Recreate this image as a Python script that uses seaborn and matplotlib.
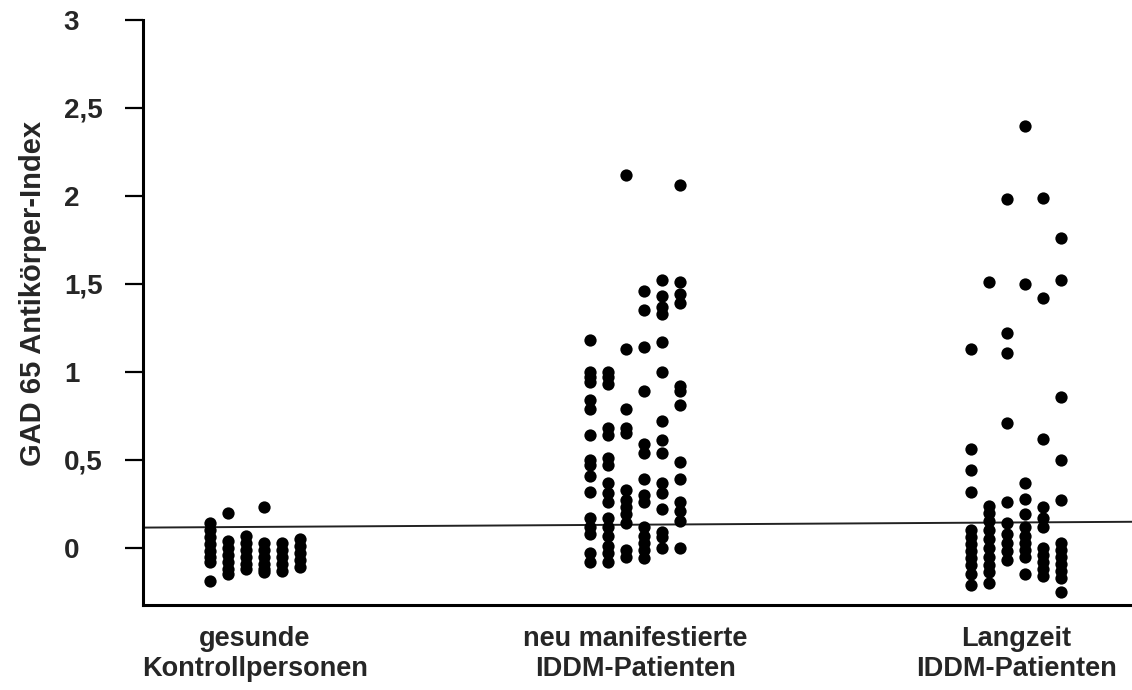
import pandas as pd
import matplotlib
matplotlib.use("Agg")
import matplotlib.pyplot as plt
import seaborn as sns

# Group labels on the x axis
groups = [
    "gesunde\nKontrollpersonen",
    "neu manifestierte\nIDDM-Patienten",
    "Langzeit\nIDDM-Patienten",
]

# Antibody index per individual, listed column by column within each group
kontrolle_cols = [
    [0.14, 0.10, 0.06, 0.02, -0.02, -0.05, -0.08, -0.19],
    [0.20, 0.04, 0.00, -0.04, -0.08, -0.12, -0.15],
    [0.07, 0.03, -0.01, -0.05, -0.09, -0.12],
    [0.23, 0.03, -0.01, -0.05, -0.09, -0.12, -0.14],
    [0.03, -0.01, -0.05, -0.09, -0.13],
    [0.05, 0.01, -0.03, -0.07, -0.11],
]
neu_cols = [
    [1.18, 1.00, 0.97, 0.94, 0.84, 0.79, 0.64, 0.50, 0.47, 0.41, 0.32,
     0.17, 0.12, 0.08, -0.03, -0.08],
    [1.00, 0.97, 0.93, 0.68, 0.64, 0.51, 0.47, 0.37, 0.31, 0.26, 0.17,
     0.12, 0.07, 0.01, -0.03, -0.08],
    [2.12, 1.13, 0.79, 0.68, 0.65, 0.33, 0.27, 0.23, 0.19, 0.14, -0.01, -0.05],
    [1.46, 1.35, 1.14, 0.89, 0.59, 0.54, 0.39, 0.30, 0.26, 0.12, 0.07,
     0.03, -0.01, -0.06],
    [1.52, 1.43, 1.37, 1.33, 1.17, 1.00, 0.72, 0.61, 0.54, 0.37, 0.31,
     0.22, 0.09, 0.06, 0.00],
    [2.06, 1.51, 1.44, 1.39, 0.92, 0.89, 0.81, 0.49, 0.39, 0.26, 0.21,
     0.15, 0.00],
]
langzeit_cols = [
    [1.13, 0.56, 0.44, 0.32, 0.10, 0.06, 0.02, -0.02, -0.06, -0.10, -0.15, -0.21],
    [1.51, 0.24, 0.20, 0.15, 0.10, 0.05, 0.00, -0.05, -0.10, -0.14, -0.20],
    [1.98, 1.22, 1.11, 0.71, 0.26, 0.14, 0.08, 0.03, -0.02, -0.07],
    [2.40, 1.50, 0.37, 0.28, 0.19, 0.12, 0.07, 0.03, -0.01, -0.05, -0.15],
    [1.99, 1.42, 0.62, 0.23, 0.17, 0.12, 0.00, -0.04, -0.08, -0.12, -0.16],
    [1.76, 1.52, 0.86, 0.50, 0.27, 0.03, -0.01, -0.05, -0.09, -0.13, -0.17, -0.25],
]

# Cut-off line (value at the left and right end of the axis)
cutoff_ends = [0.115, 0.148]

ytick_values = [0, 0.5, 1, 1.5, 2, 2.5, 3]
ytick_labels = ["0", "0,5", "1", "1,5", "2", "2,5", "3"]

# Long-form table: one row per individual
col_step = 0.0473
rows = []
for g, cols in enumerate([kontrolle_cols, neu_cols, langzeit_cols]):
    n = len(cols)
    for c, vals in enumerate(cols):
        for v in vals:
            rows.append({"pos": g + (c - (n - 1) / 2) * col_step, "index": v})
df = pd.DataFrame(rows)

sns.set_style("white")
plt.rcParams["font.family"] = ["Liberation Sans", "DejaVu Sans"]

W, H = 1132, 690
fig = plt.figure(figsize=(W / 100, H / 100), dpi=100)
ax = fig.add_axes([143 / W, 85 / H, 989 / W, 585 / H])

sns.scatterplot(data=df, x="pos", y="index", color="black", s=78,
                linewidth=0, legend=False, ax=ax, zorder=3)

xmin, xmax = -0.2933, 2.304
ax.plot([xmin, xmax], cutoff_ends, color="#222222", lw=1.4, zorder=2)

ax.set_xlim(xmin, xmax)
ax.set_ylim(-0.325, 3.0)

ax.set_xticks(range(len(groups)))
ax.set_xticklabels(groups, fontsize=19.5, fontweight="bold", linespacing=1.22)
ax.set_yticks(ytick_values)
ax.set_yticklabels(ytick_labels, fontsize=20, fontweight="bold")
for lab in ax.get_yticklabels():
    lab.set_horizontalalignment("left")

ax.tick_params(axis="x", length=0, pad=15)
ax.tick_params(axis="y", direction="out", length=13, width=1.6,
               color="black", pad=44, left=True)

ax.set_xlabel("")
ax.set_ylabel("GAD 65 Antikörper-Index", fontsize=21, fontweight="bold")
ax.yaxis.set_label_coords(-0.097, 0.532)

for side in ("top", "right"):
    ax.spines[side].set_visible(False)
for side in ("left", "bottom"):
    ax.spines[side].set_linewidth(2.2)
    ax.spines[side].set_color("black")

fig.savefig("out.png", dpi=100, facecolor="white")
